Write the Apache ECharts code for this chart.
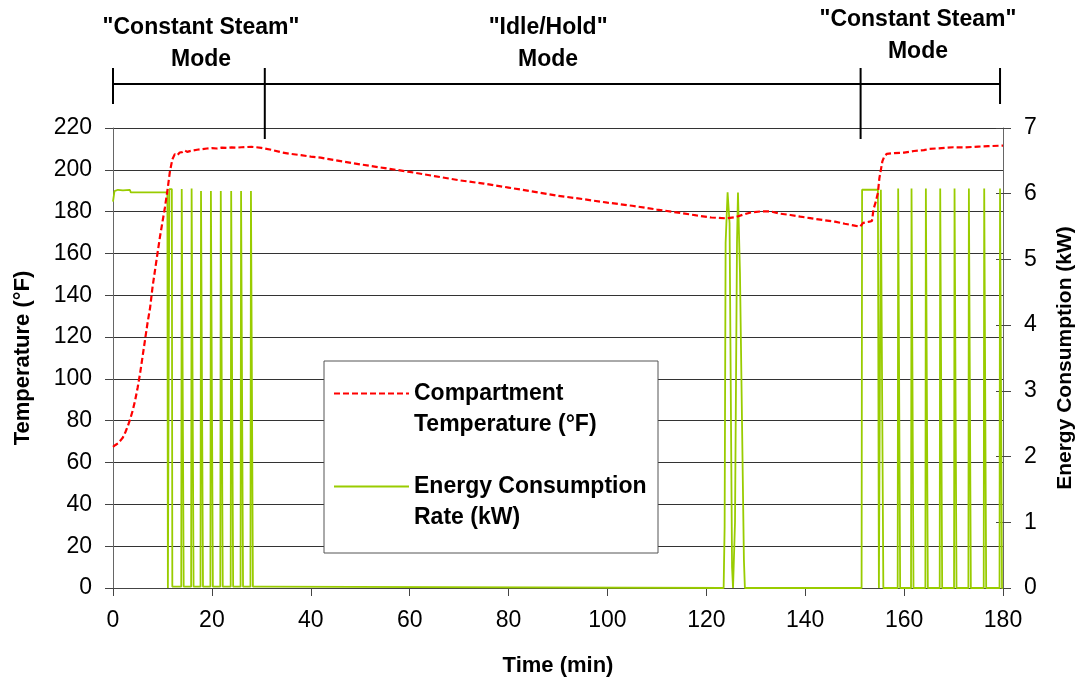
<!DOCTYPE html>
<html>
<head>
<meta charset="utf-8">
<script src="https://cdn.jsdelivr.net/npm/echarts@6/dist/echarts.min.js"></script>
<style>
  html, body { margin: 0; padding: 0; background: #ffffff; }
  #chart { width: 1088px; height: 680px; }
</style>
</head>
<body>
<div id="chart"></div>
<script>
// Series names shown in the legend
const seriesNames = ['Compartment\nTemperature (°F)', 'Energy Consumption\nRate (kW)'];

// Compartment temperature, [time (min), °F]
const temperature = [
  [0, 67.5], [0.5, 68.4], [1, 69.2], [1.5, 70.5], [2, 72], [2.5, 74.5], [3, 77.5], [3.5, 81],
  [4, 85], [4.5, 90], [5, 96], [5.5, 103], [6, 111], [6.5, 119], [7, 127], [7.5, 134],
  [8, 144], [8.5, 152], [9, 160], [9.5, 168], [10, 175], [10.5, 182], [11, 190], [11.5, 199],
  [12, 205], [12.5, 207.5], [13, 207], [13.5, 208.3], [14, 208.5], [14.5, 209.3], [15, 208.6],
  [16, 209.2], [17, 209.6], [18, 209.9], [19, 210.2], [20, 210.4], [21, 210.2], [22, 210.6],
  [23, 210.5], [24, 210.7], [25, 210.6], [26, 210.8], [27, 210.9], [28, 211], [29, 210.8],
  [30, 210.5], [32, 209.6], [34, 208.4], [36, 207.6], [38, 207], [40, 206.3], [42, 205.8],
  [45, 204.6], [50, 202.6], [55, 200.8], [60, 199], [65, 197], [70, 195], [75, 193.4],
  [80, 191.5], [85, 189.6], [90, 187.6], [95, 186], [100, 184.3], [105, 182.8], [110, 181],
  [115, 179.3], [118, 178.2], [121, 177.2], [124, 176.8], [126, 177.4], [127.5, 178.6],
  [129, 179.6], [131, 180.1], [133, 180.1], [135, 179], [137, 178.4], [139, 177.6],
  [141, 176.9], [143.5, 176], [146, 175.2], [148, 174.2], [150, 173.3], [151.1, 172.8],
  [151.7, 174.6], [153, 175.2], [153.5, 175.6], [153.8, 181], [154.3, 185], [154.7, 189],
  [155, 196], [155.3, 200], [155.6, 204], [156, 206.5], [156.5, 207.6], [158, 208],
  [160, 208.2], [162, 209], [164, 209.4], [165, 210], [167, 210.3], [170, 210.8],
  [172, 210.7], [175, 211.1], [177, 211.3], [180, 211.6]
];

// Energy consumption rate, [time (min), kW]
const energy = [
  [0, 5.88], [0.3, 6.04], [1, 6.06], [2, 6.05], [3.4, 6.06], [3.6, 6.02], [11.0, 6.02],
  [11.1, 0], [11.3, 0], [11.4, 6.07], [11.9, 6.07], [12.0, 0.02],
  [13.8, 0.02], [13.9, 6.07], [14.2, 6.07], [14.3, 0.02],
  [15.8, 0.02], [15.9, 6.08], [16.2, 6.08], [16.3, 0.02],
  [17.7, 0.02], [17.8, 6.04], [18.1, 6.04], [18.2, 0.02],
  [19.7, 0.02], [19.8, 6.04], [20.1, 6.04], [20.2, 0.02],
  [21.7, 0.02], [21.8, 6.04], [22.1, 6.04], [22.2, 0.02],
  [23.8, 0.02], [23.9, 6.04], [24.2, 6.04], [24.3, 0.02],
  [25.8, 0.02], [25.9, 6.04], [26.2, 6.04], [26.3, 0.02],
  [27.8, 0.02], [27.9, 6.04], [28.2, 6.04], [28.3, 0.02],
  [30.1, 0.02], [30.2, 0],
  [123.5, 0], [123.7, 0.93], [123.9, 5.25], [124.3, 6.02], [124.7, 5.55], [125.2, 0.32], [125.4, 0],
  [125.8, 1.0], [126.2, 5.25], [126.4, 6.02], [126.8, 4.8], [127.6, 0.43], [127.8, 0],
  [151.4, 0], [151.5, 6.06], [154.7, 6.06], [154.9, 0], [155.2, 0], [155.3, 6.06], [155.6, 6.06], [155.8, 0],
  [158.7, 0], [158.8, 6.08], [159.1, 6.08], [159.2, 0],
  [161.4, 0], [161.5, 6.08], [161.8, 6.08], [161.9, 0],
  [164.3, 0], [164.4, 6.08], [164.7, 6.08], [164.8, 0],
  [167.2, 0], [167.3, 6.08], [167.6, 6.08], [167.7, 0],
  [170.1, 0], [170.2, 6.08], [170.5, 6.08], [170.6, 0],
  [173.0, 0], [173.1, 6.08], [173.4, 6.08], [173.5, 0],
  [176.1, 0], [176.2, 6.08], [176.5, 6.08], [176.6, 0],
  [179.3, 0], [179.4, 6.08], [179.7, 6.08], [179.8, 0], [180, 0]
];

// Axis ranges: [min, max, interval]
const timeAxis = [0, 180, 20];
const tempAxis = [0, 220, 20];
const energyAxis = [0, 7, 1];

// Operating modes across the top, with their boundary times (min)
const modeLabels = ['"Constant Steam"\nMode', '"Idle/Hold"\nMode', '"Constant Steam"\nMode'];
const modeBounds = [0, 30.7, 151.2, 179.4];

const FONT = '"Liberation Sans", Arial, Helvetica, sans-serif';
const RED = '#ff0000';
const GREEN = '#99cc00';

const chart = echarts.init(document.getElementById('chart'), null, { renderer: 'canvas' });

const option = {
  backgroundColor: '#ffffff',
  animation: false,
  textStyle: { fontFamily: FONT },
  grid: { left: 113, right: 85, top: 128, bottom: 92, containLabel: false, outerBoundsMode: 'none' },
  legend: {
    data: [seriesNames[0], seriesNames[1]],
    orient: 'vertical',
    left: 333,
    top: 347,
    padding: 0,
    itemGap: 0,
    itemWidth: 75,
    itemHeight: 14,
    z: 6,
    // a blank first line keeps each swatch level with the first line of its caption
    formatter: name => '\u00a0\n' + name,
    itemStyle: { opacity: 0 },
    textStyle: {
      fontFamily: FONT, fontSize: 23, fontWeight: 'bold', color: '#000', lineHeight: 31
    }
  },
  xAxis: {
    type: 'value',
    min: timeAxis[0], max: timeAxis[1], interval: timeAxis[2],
    name: 'Time (min)',
    nameLocation: 'middle',
    nameGap: 67,
    nameTextStyle: { fontFamily: FONT, fontSize: 22, fontWeight: 'bold', color: '#000' },
    axisLine: { onZero: false, lineStyle: { color: '#444', width: 1 } },
    axisTick: { length: 8, lineStyle: { color: '#444' } },
    axisLabel: { fontFamily: FONT, fontSize: 23, color: '#000', margin: 21 },
    splitLine: { show: false }
  },
  yAxis: [
    {
      type: 'value',
      position: 'left',
      min: tempAxis[0], max: tempAxis[1], interval: tempAxis[2],
      name: 'Temperature (°F)',
      nameLocation: 'middle',
      nameRotate: 90,
      nameGap: 79,
      nameTextStyle: { fontFamily: FONT, fontSize: 22, fontWeight: 'bold', color: '#000' },
      axisLine: { show: true, lineStyle: { color: '#666', width: 1 } },
      axisTick: { show: true, length: 8, lineStyle: { color: '#444' } },
      axisLabel: { fontFamily: FONT, fontSize: 23, color: '#000', margin: 21 },
      splitLine: { show: true, lineStyle: { color: '#333', width: 1 } }
    },
    {
      type: 'value',
      position: 'right',
      min: energyAxis[0], max: energyAxis[1], interval: energyAxis[2],
      name: 'Energy Consumption (kW)',
      nameLocation: 'middle',
      nameRotate: 90,
      nameGap: 52,
      nameTextStyle: { fontFamily: FONT, fontSize: 21, fontWeight: 'bold', color: '#000' },
      axisLine: { show: true, lineStyle: { color: '#666', width: 1 } },
      axisTick: { show: true, length: 8, lineStyle: { color: '#444' } },
      axisLabel: { fontFamily: FONT, fontSize: 23, color: '#000', margin: 21 },
      splitLine: { show: false }
    },
    {
      // inner half of the right-hand ticks, so they cross the axis line
      type: 'value',
      position: 'right',
      min: energyAxis[0], max: energyAxis[1], interval: energyAxis[2],
      axisLine: { show: false },
      axisTick: { show: true, inside: true, length: 7, lineStyle: { color: '#444' } },
      axisLabel: { show: false },
      splitLine: { show: false }
    }
  ],
  series: [
    {
      name: seriesNames[1],
      type: 'line',
      yAxisIndex: 1,
      data: energy,
      showSymbol: false,
      symbol: 'none',
      lineStyle: { color: GREEN, width: 1.8 },
      itemStyle: { color: GREEN },
      z: 2
    },
    {
      name: seriesNames[0],
      type: 'line',
      yAxisIndex: 0,
      data: temperature,
      showSymbol: false,
      symbol: 'none',
      lineStyle: { color: RED, width: 2.2, type: [6, 3] },
      itemStyle: { color: RED },
      z: 3
    }
  ]
};

chart.setOption(option);

// Mode bracket, mode captions and legend frame, placed from the axis scales
const xPix = t => chart.convertToPixel({ xAxisIndex: 0 }, t);
const yTop = chart.convertToPixel({ yAxisIndex: 0 }, tempAxis[1]);
const bracketY = 84;
const captionAt = [17.8, 88, 162.8];
const captionTop = [12, 12, 4];

const graphics = [];
graphics.push({
  type: 'line', z: 10,
  shape: { x1: xPix(modeBounds[0]), y1: bracketY, x2: xPix(modeBounds[3]), y2: bracketY },
  style: { stroke: '#000', lineWidth: 2 }
});
modeBounds.forEach((t, i) => {
  const inner = i > 0 && i < modeBounds.length - 1;
  const x = xPix(t);
  graphics.push({
    type: 'line', z: 10,
    shape: { x1: x, y1: 68, x2: x, y2: inner ? yTop + 11 : 104 },
    style: { stroke: '#000', lineWidth: 2 }
  });
});
modeLabels.forEach((txt, i) => {
  graphics.push({
    type: 'text', z: 10,
    style: {
      text: txt, x: xPix(captionAt[i]), y: captionTop[i],
      font: 'bold 23px ' + FONT, fill: '#000',
      textAlign: 'center', textVerticalAlign: 'top', lineHeight: 32
    }
  });
});
graphics.push({
  type: 'rect', z: 5,
  shape: { x: 324, y: 361, width: 334, height: 192 },
  style: { fill: '#ffffff', stroke: '#555', lineWidth: 1 }
});

chart.setOption({ graphic: graphics });
</script>
</body>
</html>
